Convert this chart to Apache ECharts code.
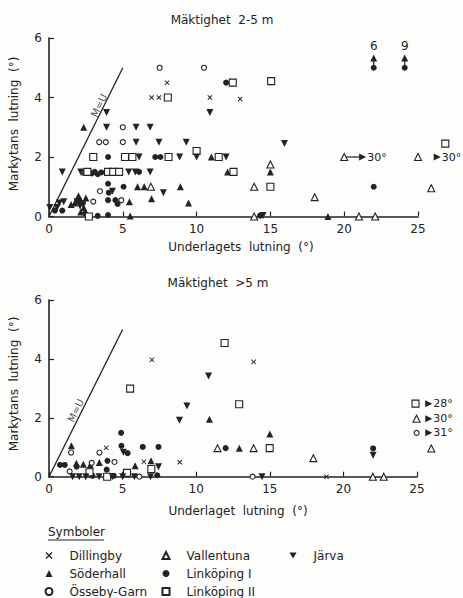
<!DOCTYPE html>
<html>
<head>
<meta charset="utf-8">
<script src="https://cdn.jsdelivr.net/npm/echarts@6/dist/echarts.min.js"></script>
<style>
  html, body { margin: 0; padding: 0; background: #fdfdfc; }
  #chart { width: 463px; height: 598px; }
</style>
</head>
<body>
<div id="chart"></div>
<script>
// Mäktighet charts: markytans lutning vs underlagets lutning

var names = ['Dillingby', 'Söderhall', 'Össeby-Garn', 'Vallentuna', 'Linköping I', 'Linköping II', 'Järva'];
var xTicks = [0, 25, 5];   // min, max, interval
var yTicks = [0, 6, 2];

// --- Mäktighet 2-5 m ---
var dillingbyA = [[8.0, 4.5], [6.95, 4.0], [7.45, 4.0], [10.9, 4.0], [12.95, 3.95]];
var soderhallA = [[2.35, 3.0], [11.0, 2.0], [12.1, 1.5], [15.0, 1.5], [2.4, 1.5], [6.0, 1.0], [6.45, 1.0], [8.9, 1.0],
  [6.95, 0.6], [9.45, 0.45], [5.45, 0.5], [5.5, 0.02], [18.9, 0.0], [1.75, 0.45], [2.0, 0.7], [2.15, 0.55],
  [2.5, 0.62], [2.35, 0.3], [2.15, 0.15], [1.5, 0.4]];
var ossebyA = [[7.5, 5.0], [10.5, 5.0], [5.0, 3.0], [3.4, 2.5], [3.85, 2.5], [5.0, 2.5], [3.45, 0.85], [3.0, 0.5], [4.9, 0.55]];
var vallentunaA = [[6.9, 1.0], [15.0, 1.75], [13.9, 1.0], [18.0, 0.65], [25.9, 0.95], [13.9, 0.0], [21.0, 0.0], [22.1, 0.0],
  [20.0, 2.0], [25.0, 2.0]];
var linkoping1A = [[12.0, 4.5], [4.0, 2.0], [7.2, 2.0], [7.55, 2.0], [6.1, 1.5], [2.9, 1.45], [3.1, 1.5], [3.3, 1.42],
  [3.55, 1.48], [4.0, 1.1], [4.05, 0.8], [5.05, 1.0], [4.0, 0.55], [4.5, 0.55], [4.65, 0.42], [2.3, 0.45],
  [2.45, 0.1], [0.4, 0.2], [0.9, 0.2], [22.0, 1.0], [22.0, 5.0], [24.1, 5.0], [3.3, 0.02], [4.0, 0.05], [14.3, 0.03]];
var linkoping2A = [[8.05, 4.0], [12.45, 4.5], [15.05, 4.55], [3.0, 2.0], [5.15, 2.0], [5.65, 2.0], [8.1, 2.0], [10.0, 2.2],
  [11.5, 2.0], [2.6, 1.5], [4.0, 1.5], [4.35, 1.5], [4.75, 1.5], [12.5, 1.5], [15.0, 1.0], [2.7, 0.0], [26.85, 2.45]];
var jarvaA = [[10.9, 3.5], [3.9, 3.5], [3.9, 3.0], [5.9, 3.0], [6.85, 3.0], [5.9, 2.5], [7.45, 2.5], [9.3, 2.5],
  [6.1, 2.0], [8.85, 2.0], [10.0, 2.0], [12.0, 2.0], [15.95, 2.45], [0.9, 1.5], [2.15, 1.5], [5.4, 1.5],
  [5.85, 1.5], [6.85, 1.5], [7.75, 0.8], [4.3, 0.85], [1.0, 0.5], [0.7, 0.45], [0.05, 0.3], [0.55, 0.3],
  [2.1, 0.35], [1.9, 0.5], [14.5, 0.03]];
// arrows: from x, from y, to x, to y, label
var arrowsA = [[22.0, 5.0, 22.0, 5.33, '6'], [24.1, 5.0, 24.1, 5.33, '9'],
  [20.0, 2.0, 21.25, 2.0, '30°'], [25.0, 2.0, 26.3, 2.0, '30°']];

// --- Mäktighet >5 m ---
var dillingbyB = [[6.99, 3.97], [13.9, 3.9], [3.88, 0.98], [6.45, 0.51], [8.88, 0.49], [18.85, 0.0]];
var soderhallB = [[10.9, 1.95], [15.0, 1.45], [12.93, 0.97], [1.52, 1.05], [6.93, 0.54], [5.85, 0.37], [1.86, 0.46],
  [2.33, 0.42], [3.42, 0.48], [2.8, 0.4]];
var ossebyB = [[1.5, 0.82], [3.43, 0.82], [2.9, 0.47], [4.45, 0.5], [1.4, 0.18], [6.14, 0.0], [13.83, 0.0], [24.97, 1.49]];
var vallentunaB = [[11.45, 0.97], [13.9, 0.97], [17.96, 0.63], [25.97, 0.96], [22.0, 0.0], [22.74, 0.0], [24.97, 1.97]];
var linkoping1B = [[4.9, 1.49], [4.92, 1.05], [6.37, 1.01], [7.44, 1.01], [5.34, 0.8], [12.0, 0.97], [22.02, 0.96],
  [0.75, 0.4], [1.07, 0.4], [1.88, 0.34], [3.97, 0.54], [3.92, 0.24], [7.35, 0.05], [2.95, 0.03], [4.4, 0.03]];
var linkoping2B = [[11.93, 4.54], [5.51, 2.99], [12.92, 2.46], [14.99, 0.97], [6.95, 0.26], [2.75, 0.15], [5.3, 0.13],
  [3.95, 0.0], [24.9, 2.48]];
var jarvaB = [[10.84, 3.42], [9.37, 2.4], [8.86, 1.92], [22.02, 0.73], [7.44, 0.34], [14.47, 0.0], [5.05, 0.83],
  [1.6, 0.0], [2.05, 0.0], [2.5, 0.0], [3.4, 0.0], [4.3, 0.0], [5.0, 0.0], [5.8, 0.0], [6.9, 0.0]];
var arrowsB = [[24.9, 2.48, 25.8, 2.48, '28°'], [24.97, 1.97, 25.8, 1.97, '30°'], [24.97, 1.49, 25.8, 1.49, '31°']];

var unityLine = [[0, 0], [5, 5]];
var unityLabelA = [3.39, 3.73];
var unityLabelB = [1.82, 2.25];

(function () {
  var ink = '#232323';
  var FONT = 'DejaVu Sans';
  var cross = 'path://M0,1.3L1.3,0L5,3.7L8.7,0L10,1.3L6.3,5L10,8.7L8.7,10L5,6.3L1.3,10L0,8.7L3.7,5Z';
  var down = 'path://M0,0L10,0L5,8.66Z';

  var kinds = [
    { symbol: cross, icon: cross, size: 5, open: false },
    { symbol: 'triangle', icon: 'triangle', size: 7, open: false },
    { symbol: 'circle', icon: 'circle', size: 5, open: true },
    { symbol: 'triangle', icon: 'triangle', size: 7, open: true },
    { symbol: 'circle', icon: 'circle', size: 6, open: false },
    { symbol: 'rect', icon: 'rect', size: 7, open: true },
    { symbol: 'triangle', icon: down, size: 7, open: false, rotate: 180 }
  ];
  var setsA = [dillingbyA, soderhallA, ossebyA, vallentunaA, linkoping1A, linkoping2A, jarvaA];
  var setsB = [dillingbyB, soderhallB, ossebyB, vallentunaB, linkoping1B, linkoping2B, jarvaB];

  function scatter(i, data, gi) {
    var k = kinds[i];
    return {
      type: 'scatter', name: names[i], xAxisIndex: gi, yAxisIndex: gi,
      data: data, symbol: k.symbol, symbolSize: k.size, symbolRotate: k.rotate || 0,
      clip: false, z: 4,
      itemStyle: { color: k.open ? '#fdfdfc' : ink, borderColor: ink, borderWidth: k.open ? 1.1 : 0, opacity: 1 },
      emphasis: { disabled: true }
    };
  }

  function arrow(a, gi) {
    var vertical = a[0] === a[2];
    return {
      type: 'line', xAxisIndex: gi, yAxisIndex: gi, clip: false, silent: true, z: 3,
      lineStyle: { color: ink, width: 1.2 }, itemStyle: { color: ink }, symbolSize: 7,
      data: [
        { value: [a[0], a[1]], symbol: 'none' },
        { value: [a[2], a[3]], symbol: 'triangle', symbolRotate: vertical ? 0 : -90,
          label: { show: true, position: vertical ? 'top' : 'right', distance: vertical ? 2 : 1,
            formatter: a[4], color: ink, fontSize: vertical ? 12 : 11, fontFamily: FONT } }
      ]
    };
  }

  function unity(gi, pos) {
    return [{
      type: 'line', xAxisIndex: gi, yAxisIndex: gi, data: unityLine, symbol: 'none', silent: true,
      lineStyle: { color: ink, width: 1.3 }, z: 2
    }, {
      type: 'scatter', xAxisIndex: gi, yAxisIndex: gi, data: [pos], symbolSize: 0, silent: true,
      label: { show: true, position: 'inside', formatter: 'M=U', rotate: 63.6, color: ink, fontSize: 10, fontFamily: FONT }
    }];
  }

  function xAxis(gi) {
    return {
      gridIndex: gi, type: 'value', min: xTicks[0], max: xTicks[1], interval: xTicks[2],
      axisLine: { lineStyle: { color: ink, width: 1.6 } },
      axisTick: { inside: true, length: 5, lineStyle: { color: ink, width: 1.2 } },
      axisLabel: { color: ink, fontSize: 12, fontFamily: FONT, margin: 6 },
      splitLine: { show: false }
    };
  }
  function yAxis(gi) {
    return {
      gridIndex: gi, type: 'value', min: yTicks[0], max: yTicks[1], interval: yTicks[2],
      axisLine: { show: true, lineStyle: { color: ink, width: 1.6 } },
      axisTick: { show: true, inside: true, length: 5, lineStyle: { color: ink, width: 1.2 } },
      axisLabel: { color: ink, fontSize: 12, fontFamily: FONT, margin: 7 },
      splitLine: { show: false }
    };
  }

  var series = [];
  setsA.forEach(function (d, i) { series.push(scatter(i, d, 0)); });
  setsB.forEach(function (d, i) { series.push(scatter(i, d, 1)); });
  arrowsA.forEach(function (a) { series.push(arrow(a, 0)); });
  arrowsB.forEach(function (a) { series.push(arrow(a, 1)); });
  series = series.concat(unity(0, unityLabelA), unity(1, unityLabelB));

  function legend(left, from, to) {
    var data = [];
    for (var i = from; i < to; i++) data.push({ name: names[i], icon: kinds[i].icon });
    return {
      orient: 'vertical', left: left, top: 548.5, height: 80, padding: 0,
      data: data, itemWidth: 7, itemHeight: 7, itemGap: 4,
      selectedMode: false,
      textStyle: { color: ink, fontSize: 12, fontFamily: FONT, lineHeight: 14, padding: [0, 0, 0, 12] }
    };
  }

  function txt(x, y, s, opt) {
    opt = opt || {};
    return {
      type: 'text', x: x, y: y, rotation: opt.rot || 0,
      style: { text: s, fill: ink, font: '12px "' + FONT + '"', align: opt.align || 'center', verticalAlign: 'middle' }
    };
  }

  var chart = echarts.init(document.getElementById('chart'), null, { renderer: 'svg' });
  chart.setOption({
    animation: false,
    backgroundColor: '#fdfdfc',
    grid: [
      { left: 49, top: 38, width: 369, height: 178.5 },
      { left: 49, top: 300, width: 368, height: 176.7 }
    ],
    xAxis: [xAxis(0), xAxis(1)],
    yAxis: [yAxis(0), yAxis(1)],
    legend: [
      legend(44.5, 0, 3),
      legend(161.5, 3, 6),
      legend(289.5, 6, 7)
    ],
    graphic: [
      txt(222, 20, 'Mäktighet  2-5 m'),
      txt(14, 124, 'Markytans  lutning  (°)', { rot: Math.PI / 2 }),
      txt(241, 247, 'Underlagets  lutning  (°)'),
      txt(218, 283, 'Mäktighet  >5 m'),
      txt(14, 384, 'Markytans  lutning  (°)', { rot: Math.PI / 2 }),
      txt(238, 511, 'Underlaget  lutning  (°)'),
      txt(48, 532, 'Symboler', { align: 'left' }),
      { type: 'line', shape: { x1: 48, y1: 540, x2: 104, y2: 540 }, style: { stroke: ink, lineWidth: 1 } }
    ],
    series: series
  });
})();
</script>
</body>
</html>
